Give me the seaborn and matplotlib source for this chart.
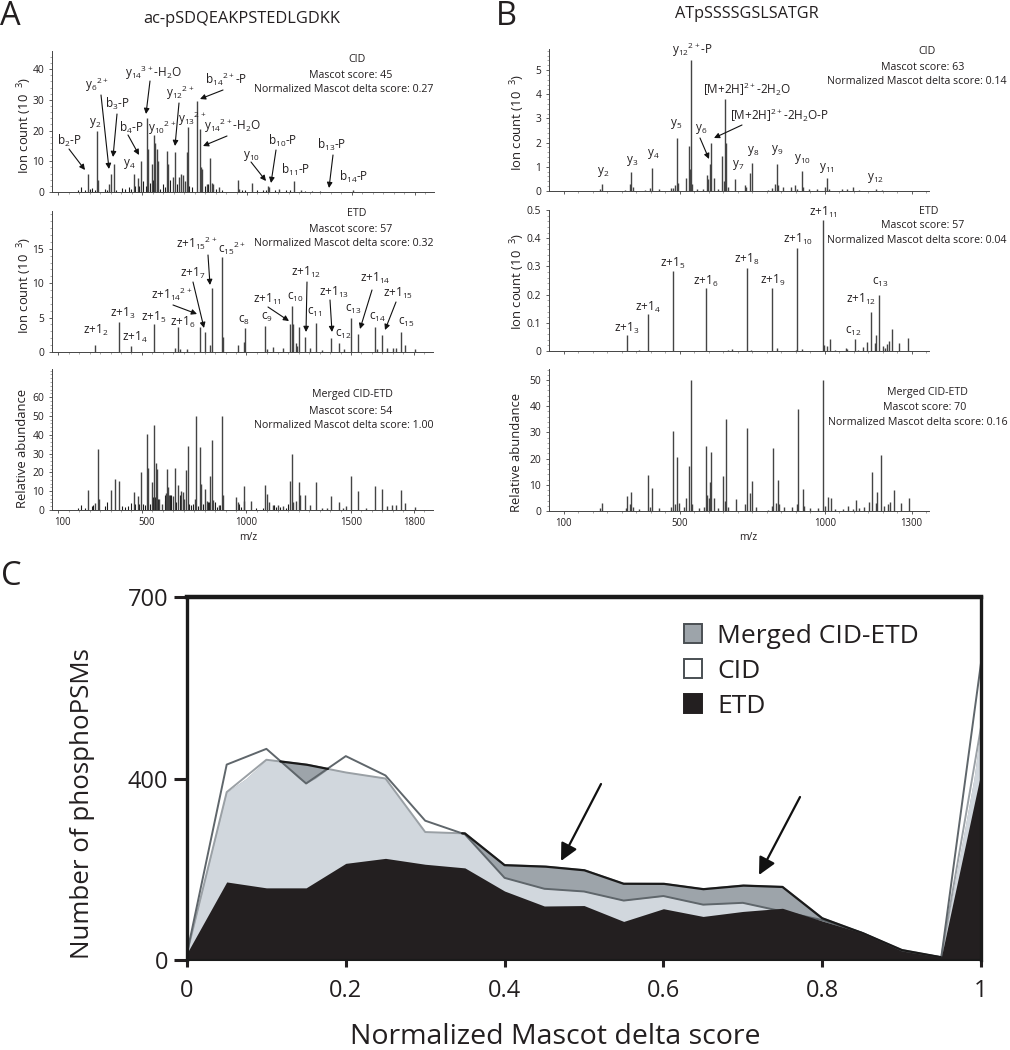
import numpy as np
import pandas as pd
import matplotlib
matplotlib.use("Agg")
import matplotlib.pyplot as plt
from matplotlib.patches import Patch
from matplotlib.transforms import ScaledTranslation
import seaborn as sns

W, H = 1010, 1050

# ---------- spectrum peaks: (m/z, intensity) ----------
a_cid_peaks = [(240,5.8),(287,20),(290,3.8),(341,2.5),(351,6),(367,9),(459,6),(478,4.5),(495,10),(524,24),(529,14),
 (548,9),(556,18.5),(563,16),(570,14),(576,10),(617,13.5),(622,9),(646,5),(656,13),(675,5),(686,6),(694,5.5),(702,3.5),
 (713,13),(719,21),(760,29.5),(776,20.5),(781,8),(787,7.5),(808,2.5),(825,11),(832,3),(840,2.5),(868,1.5),(956,4),(962,1),
 (1024,3),(1098,2),(1106,1.5),(1154,1),(1222,3.5),(1260,.5),(1506,.8)]
a_cid_small = [(192,.7),(210,1.5),(229,.5),(249,1),(260,1.2),(275,.8),(322,1),(332,.6),(376,.8),(403,1.2),(419,1),(435,1.5),
 (446,1),(467,2),(487,2),(506,3.5),(516,2),(538,3),(552,4),(560,3),(586,1),(598,2.5),(608,1.5),(633,4),(665,2.5),(725,2),(737,1.5),
 (800,2),(816,2.5),(852,1),(879,.5),(975,.8),(990,.5),(1046,.5),(1078,.6),(1090,.8),(1133,.7),(1186,.5),(1205,.7),(1276,.3),(1308,.2),(1348,.2)]
a_etd_peaks = [(278,1),(392,4.4),(448,.9),(559,4.1),(657,.6),(671,3.6),(681,.5),(714,.5),(778,3.7),(800,2.9),(825,1),(835,9.3),
 (881,13.8),(886,2.2),(960,1),(987,1.5),(992,3.5),(1090,3.8),(1100,.4),(1125,.7),(1176,.6),(1208,4.1),(1219,6.7),(1224,4),(1235,1.3),
 (1241,.8),(1252,3.6),(1279,2.2),(1305,.6),(1332,4.2),(1360,.3),(1406,2),(1444,1.3),(1467,.5),(1500,5),(1533,2.6),(1613,3.7),(1622,.5),
 (1648,2.4),(1670,.6),(1700,.6),(1713,.6),(1741,2.9),(1757,1),(1808,.4)]
a_merged_peaks = [(243,10.8),(290,32.5),(295,6),(276,3.5),(354,10.5),(370,16.5),(389,15.5),(460,9.5),(479,7.5),(497,20),(524,40.5),
 (529,22.5),(549,15),(557,45),(567,25),(573,22),(583,6),(597,3),(617,9),(621,22),(624,12),(629,8),(656,22.5),(649,7.5),(673,13.5),
 (689,10),(695,9.5),(703,6),(713,21),(719,34),(752,6),(760,50),(776,33.5),(784,14),(800,11),(810,5),(827,18),(833,37),(840,5.5),
 (868,2.5),(883,50),(887,8),(952,7),(960,4),(990,13),(986,5),(1024,5),(1090,13.5),(1098,8.5),(1106,4),(1125,2.5),(1149,2.5),(1176,2),
 (1208,15.5),(1219,30),(1224,4),(1235,5),(1252,15),(1257,8),(1278,8),(1305,2.5),(1332,15),(1360,1),(1387,1),(1406,7.5),(1443,4.5),
 (1462,1),(1475,2),(1500,18),(1533,10),(1570,1),(1613,13),(1648,11),(1670,2),(1697,2.5),(1713,2.5),(1741,10.5),(1757,3.5),(1808,1.5)]
a_merged_small = [(192,1),(210,2.5),(229,1),(260,2),(268,2.5),(322,2),(332,4),(403,2),(419,1.5),(435,2),(446,3.5),(467,3),(487,3),
 (506,3),(516,2.5),(538,3),(552,7),(560,6),(563,7),(577,6),(608,5),(612,8),(633,8),(639,8),(665,4),(680,8),(725,3),(737,2.5),(745,3),
 (770,2),(792,3),(816,4.5),(822,4.5),(850,4),(860,1.5),(875,2.5),(965,3),(975,1.5),(1046,1),(1078,1),(1133,2.5),(1140,1.5),(1160,1.5),(1190,1),(1200,3)]

b_cid_peaks = [(232,.3),(224,.08),(311,.05),(329,.3),(333,.77),(340,.15),(379,.05),(398,.12),(405,.95),(428,.07),(469,.12),(476,.12),
 (485,.25),(491,2.2),(495,.33),(522,.55),(531,1.85),(534,.9),(540,5.4),(543,.3),(561,.07),(580,.1),(594,.65),(599,.5),(603,1.1),(608,2.0),
 (617,.55),(631,.07),(647,1.45),(653,.4),(656,3.8),(659,2),(666,.15),(692,.5),(724,.25),(728,.15),(741,.75),(748,1.15),(805,.05),(817,.12),
 (829,.3),(834,1.12),(839,.25),(857,.15),(885,.15),(899,.25),(905,.1),(922,.83),(926,.15),(945,.1),(974,.07),(1000,.18),(1008,.55),(1014,.1),
 (1059,.07),(1078,.07),(1098,.17),(1117,.05),(1176,.1),(1199,.03)]
b_etd_peaks = [(318,.055),(361,.005),(390,.13),(476,.285),(589,.225),(668,.005),(680,.008),(732,.295),(747,.005),(820,.225),(834,.012),
 (900,.005),(906,.365),(922,.008),(993,.465),(998,.02),(1009,.018),(1018,.042),(1034,.005),(1072,.012),(1078,.008),(1105,.042),(1116,.005),
 (1133,.015),(1147,.032),(1159,.14),(1172,.028),(1176,.058),(1189,.2),(1202,.018),(1208,.01),(1216,.025),(1222,.035),(1233,.078),(1257,.028),(1286,.047)]
b_merged_peaks = [(224,1),(232,3),(313,1),(318,5.8),(329,2.5),(333,7.2),(340,1.5),(361,.7),(390,13.7),(398,1.5),(406,8.8),(428,1),(469,1.5),
 (476,30.5),(484,2.5),(492,20.5),(497,3),(516,1.5),(523,5),(531,17),(540,50),(544,2.5),(566,1),(585,1.5),(590,25),(594,6),(600,5),(606,11),
 (609,22.5),(617,5),(631,1),(649,13.5),(655,4),(659,35),(667,1.5),(693,4.5),(725,2.5),(733,31.5),(743,7),(749,11.3),(762,1.5),(805,.5),(817,2),
 (822,24),(831,3),(838,11.8),(843,2.5),(861,1.5),(889,1.5),(903,2.5),(908,39),(924,8.5),(929,2),(948,1),(977,1),(995,50),(1000,2),(1013,5.2),
 (1022,5),(1036,.7),(1063,.7),(1080,1.8),(1098,.7),(1108,4.3),(1118,1),(1137,1.5),(1152,3.4),(1163,15),(1176,3),(1180,7.3),(1193,21.5),(1206,1.8),
 (1220,2.5),(1225,3.5),(1238,8.2),(1262,3),(1290,5)]

# ---------- panel C series ----------
delta_score = [0,.05,.1,.15,.2,.25,.3,.35,.4,.45,.5,.55,.6,.65,.7,.75,.8,.85,.9,.95,1]
merged_psms = [15,370,431,423,410,400,282,279,209,206,198,168,168,156,164,161,92,60,22,6,485]
cid_psms    = [15,423,449,389,437,405,307,277,181,157,151,131,141,122,126,107,88,60,20,6,591]
etd_psms    = [15,172,159,159,213,224,211,203,152,119,120,85,113,96,107,114,86,60,20,6,410]

sns.set_theme(style="white")
plt.rcParams["font.family"] = ["Open Sans", "DejaVu Sans"]
plt.rcParams["mathtext.fontset"] = "custom"
plt.rcParams["mathtext.rm"] = "Open Sans"
plt.rcParams["mathtext.default"] = "regular"
INK = "#231f20"

fig = plt.figure(figsize=(W / 100, H / 100), dpi=100)


def rect(l, t, r, b):
    return [l / W, 1 - b / H, (r - l) / W, (b - t) / H]


def txt(x, y, s, size=8.5, **kw):
    kw.setdefault("ha", "center")
    kw.setdefault("va", "center")
    fig.text(x / W, 1 - y / H, s, fontsize=size, color=kw.pop("color", INK), **kw)


def arrow(x0, y0, x1, y1, lw=0.8, ms=8):
    fig.add_artist(matplotlib.patches.FancyArrowPatch(
        (x0 / W, 1 - y0 / H), (x1 / W, 1 - y1 / H), transform=fig.transFigure,
        arrowstyle="-|>", mutation_scale=ms, lw=lw, color="#111111", shrinkA=0, shrinkB=0))


def spectrum(box, xlim, ylim, peaks, small, yticks, yfmt, xticks, xlabels):
    ax = fig.add_axes(rect(*box))
    ax.set_facecolor("none")
    if small:
        m, v = zip(*small)
        ax.vlines(m, 0, v, color="#1c1c1c", lw=0.8)
    m, v = zip(*peaks)
    ax.vlines(m, 0, v, color="#444444", lw=1.0)
    ax.set_xlim(*xlim)
    ax.set_ylim(*ylim)
    sns.despine(ax=ax)
    for s in ("left", "bottom"):
        ax.spines[s].set_linewidth(0.7)
        ax.spines[s].set_color("#444444")
    ax.set_yticks(yticks)
    ax.set_yticklabels(yfmt, fontsize=7.4, color=INK)
    ax.set_xticks(xticks)
    ax.set_xticklabels(xlabels, fontsize=6.9, color=INK)
    step = (yticks[1] - yticks[0]) / 5
    ax.set_yticks(np.arange(0, ylim[1], step), minor=True)
    ax.set_xticks(np.arange(100, xlim[1], 50), minor=True)
    ax.tick_params(axis="both", which="major", length=2.5, width=0.6, color="#444444", pad=3, left=True, bottom=True)
    ax.tick_params(axis="both", which="minor", length=1.2, width=0.4, color="#666666", left=True, bottom=True)
    ax.tick_params(axis="x", pad=2.5)
    return ax


ax_xticks = [100, 500, 1000, 1500, 1800]
bx_xticks = [100, 500, 1000, 1300]
axl = (70, 1892)
bxl = (49, 1360)
spectrum((52, 51, 434, 192), axl, (0, 45.9), a_cid_peaks, a_cid_small, [0,10,20,30,40], ["0","10","20","30","40"], ax_xticks, [])
spectrum((52, 211, 433, 352), axl, (0, 20.5), a_etd_peaks, None, [0,5,10,15], ["0","5","10","15"], ax_xticks, [])
am = spectrum((52, 369, 433, 510), axl, (0, 74.9), a_merged_peaks, a_merged_small, [0,10,20,30,40,50,60], ["0","10","20","30","40","50","60"], ax_xticks, [str(t) for t in ax_xticks])
spectrum((549, 49, 929, 191), bxl, (0, 5.87), b_cid_peaks, None, [0,1,2,3,4,5], ["0","1","2","3","4","5"], bx_xticks, [])
spectrum((549, 210, 929, 351), bxl, (0, 0.5), b_etd_peaks, None, [0,.1,.2,.3,.4,.5], ["0","0.1","0.2","0.3","0.4","0.5"], bx_xticks, [])
bm = spectrum((549, 369, 929, 511), bxl, (0, 54.2), b_merged_peaks, None, [0,10,20,30,40,50], ["0","10","20","30","40","50"], bx_xticks, [str(t) for t in bx_xticks])

# the first two m/z labels of panel A stand a little right of their ticks in the reference
shift = ScaledTranslation(4.5 / 100, 0, fig.dpi_scale_trans)
for lab in am.get_xticklabels()[:2]:
    lab.set_transform(lab.get_transform() + shift)

# panel letters and titles
txt(0, 25, "A", size=23.5, ha="left", va="baseline")
txt(496, 25, "B", size=23.5, ha="left", va="baseline")
txt(1, 585, "C", size=23.5, ha="left", va="baseline")
txt(242, 19, "ac-pSDQEAKPSTEDLGDKK", size=11.8)
txt(747, 14, "ATpSSSSGSLSATGR", size=11.7)
txt(248, 538, "m/z", size=7.4)
txt(748, 537, "m/z", size=7.4)

ION = r"Ion count (10  $^{3}$)"
for x, y, s in [(25, 125, ION), (25, 285, ION), (23, 449, "Relative abundance"),
                (518, 122, ION), (518, 281, ION), (517, 452, "Relative abundance")]:
    txt(x, y, s, size=9.4, rotation=90)

# score blocks
for rows in [
    [(357, 60, "CID"), (351, 75, "Mascot score: 45"), (344, 90, "Normalized Mascot delta score: 0.27")],
    [(357, 214, "ETD"), (351, 229, "Mascot score: 57"), (344, 244, "Normalized Mascot delta score: 0.32")],
    [(352, 395, "Merged CID-ETD"), (351, 411, "Mascot score: 54"), (344, 426, "Normalized Mascot delta score: 1.00")],
    [(927, 52, "CID"), (923, 67, "Mascot score: 63"), (917, 82, "Normalized Mascot delta score: 0.14")],
    [(929, 211, "ETD"), (923, 226, "Mascot score: 57"), (917, 241, "Normalized Mascot delta score: 0.04")],
    [(927, 392, "Merged CID-ETD"), (925, 407, "Mascot score: 70"), (918, 422, "Normalized Mascot delta score: 0.16")],
]:
    for x, y, s in rows:
        txt(x, y, s, size=7.7)

# fragment labels
labels = [
 (69,141,r"b$_{2}$-P"),(97,85,r"y$_{6}$$^{2+}$"),(117,104,r"b$_{3}$-P"),(131,128,r"b$_{4}$-P"),(153,73,r"y$_{14}$$^{3+}$-H$_{2}$O"),
 (95,123,r"y$_{2}$"),(129,164,r"y$_{4}$"),(162,128,r"y$_{10}$$^{2+}$"),(180,93,r"y$_{12}$$^{2+}$"),(192,119,r"y$_{13}$$^{2+}$"),
 (226,79,r"b$_{14}$$^{2+}$-P"),(232,126,r"y$_{14}$$^{2+}$-H$_{2}$O"),(251,156,r"y$_{10}$"),(283,141,r"b$_{10}$-P"),(296,170,r"b$_{11}$-P"),
 (332,145,r"b$_{13}$-P"),(354,177,r"b$_{14}$-P"),
 (197,243,r"z+1$_{15}$$^{2+}$"),(232,248,r"c$_{15}$$^{2+}$"),(193,273,r"z+1$_{7}$"),(172,294,r"z+1$_{14}$$^{2+}$"),(123,313,r"z+1$_{3}$"),
 (96,330,r"z+1$_{2}$"),(135,337,r"z+1$_{4}$"),(154,317,r"z+1$_{5}$"),(183,322,r"z+1$_{6}$"),(244,320,r"c$_{8}$"),(267,317,r"c$_{9}$"),
 (267,299,r"z+1$_{11}$"),(295,297,r"c$_{10}$"),(306,272,r"z+1$_{12}$"),(315,312,r"c$_{11}$"),(334,292,r"z+1$_{13}$"),(343,334,r"c$_{12}$"),
 (353,309,r"c$_{13}$"),(375,278,r"z+1$_{14}$"),(378,317,r"c$_{14}$"),(398,293,r"z+1$_{15}$"),(406,322,r"c$_{15}$"),
 (603,172,r"y$_{2}$"),(632,161,r"y$_{3}$"),(653,154,r"y$_{4}$"),(676,124,r"y$_{5}$"),(692,50,r"y$_{12}$$^{2+}$-P"),
 (747,89,r"[M+2H]$^{2+}$-2H$_{2}$O"),(780,115,r"[M+2H]$^{2+}$-2H$_{2}$O-P"),(701,129,r"y$_{6}$"),(738,165,r"y$_{7}$"),(753,151,r"y$_{8}$"),
 (777,150,r"y$_{9}$"),(802,159,r"y$_{10}$"),(827,168,r"y$_{11}$"),(876,178,r"y$_{12}$"),
 (627,328,r"z+1$_{3}$"),(648,307,r"z+1$_{4}$"),(673,263,r"z+1$_{5}$"),(706,281,r"z+1$_{6}$"),(747,259,r"z+1$_{8}$"),(773,280,r"z+1$_{9}$"),
 (798,239,r"z+1$_{10}$"),(823,212,r"z+1$_{11}$"),(861,299,r"z+1$_{12}$"),(853,331,r"c$_{12}$"),(880,282,r"c$_{13}$"),
]
for x, y, s in labels:
    txt(x, y, s, size=8.5)

for seg in [(69,149,85,170),(101,95,109,169),(117,114,113,157),(128,135,139,155),(150,81,146,114),(179,103,175,146),(223,90,200,99),
            (227,136,203,146),(251,162,266,181),(276,150,271,183),(333,155,329,188),
            (208,255,210,285),(193,282,204,328),(173,305,197,314),(268,307,289,321),(307,282,306,332),(330,300,332,332),
            (372,290,360,329),(396,302,385,330),(742,125,714,138),(700,138,709,159)]:
    arrow(*seg)

# ---------- panel C ----------
axc = fig.add_axes(rect(187, 597, 981, 960))
axc.set_facecolor("white")
df = pd.DataFrame({"score": delta_score, "Merged CID-ETD": merged_psms, "CID": cid_psms, "ETD": etd_psms})
knots = [0, 400, 700]
axc.set_yscale("function", functions=(
    lambda v: np.interp(v, knots, [0, 1, 2]),
    lambda u: np.interp(u, [0, 1, 2], knots)))
grid = np.linspace(0, 1, 2001)
gm = np.interp(grid, df["score"], df["Merged CID-ETD"])
gc = np.interp(grid, df["score"], df["CID"])
axc.fill_between(grid, 0, gm, color="#9da4aa", lw=0)
axc.fill_between(grid, 0, np.minimum(gm, gc), color="#d1d7dd", lw=0)
axc.fill_between(df["score"], 0, df["ETD"], color="#231f20", lw=0, zorder=3)
sns.lineplot(data=df, x="score", y="Merged CID-ETD", color="#9aa0a5", lw=1.4, ax=axc, estimator=None, sort=False, errorbar=None, zorder=2)
sns.lineplot(data=df, x="score", y="CID", color="#5f666b", lw=1.4, ax=axc, estimator=None, sort=False, errorbar=None, zorder=2.2)
axc.plot(grid, np.ma.masked_where(gm < gc, gm), color="#1a1a1a", lw=1.6, zorder=2.5)
axc.set_xlim(0, 1)
axc.set_ylim(0, 700)
axc.set_xticks([0, .2, .4, .6, .8, 1], ["0", "0.2", "0.4", "0.6", "0.8", "1"], fontsize=17, color=INK)
axc.set_yticks(knots, ["0", "400", "700"], fontsize=17, color=INK)
axc.minorticks_off()
axc.set_xlabel("")
axc.set_ylabel("")
axc.tick_params(axis="y", length=9.5, width=2.2, color=INK, pad=4, left=True)
axc.tick_params(axis="x", length=5, width=2.2, color=INK, pad=9, bottom=True)
for side, lw in [("left", 2.4), ("right", 2.4), ("top", 3.2), ("bottom", 1.5)]:
    axc.spines[side].set_visible(True)
    axc.spines[side].set_linewidth(lw)
    axc.spines[side].set_color("#1a1a1a")
    axc.spines[side].set_zorder(5)
txt(83, 804, "Number of phosphoPSMs", size=18.6, rotation=90)
txt(555, 1037, "Normalized Mascot delta score", size=20.5)
arrow(601, 784, 561, 861, lw=1.6, ms=26)
arrow(800, 797, 759, 875, lw=1.6, ms=26)

leg = axc.legend(
    handles=[Patch(facecolor="#9da4aa", edgecolor="#4a4f53", lw=1.4, label="Merged CID-ETD"),
             Patch(facecolor="white", edgecolor="#4a4f53", lw=1.4, label="CID"),
             Patch(facecolor="#231f20", edgecolor="#231f20", lw=1.4, label="ETD")],
    loc="upper left", bbox_to_anchor=(660 / W, 1 - 600 / H), bbox_transform=fig.transFigure,
    frameon=False, fontsize=19, handlelength=0.68, handleheight=0.68, handletextpad=0.58, labelspacing=0.38,
    labelcolor=INK)

fig.savefig("out.png", dpi=100, facecolor="white")
